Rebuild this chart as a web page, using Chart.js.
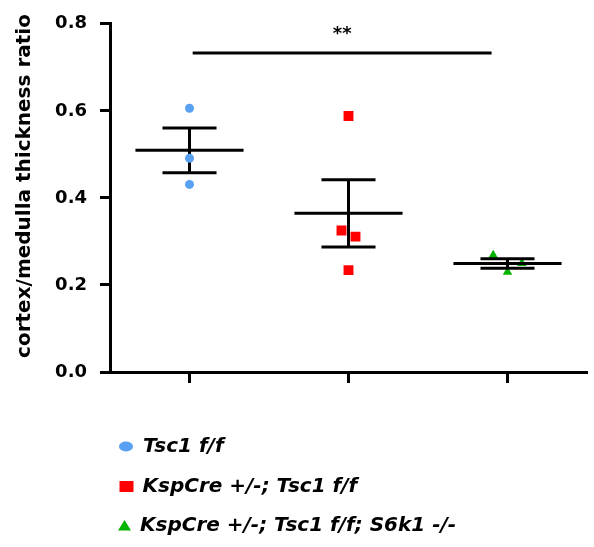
<!DOCTYPE html>
<html>
<head>
<meta charset="utf-8">
<script src="https://cdn.jsdelivr.net/npm/chart.js@4.4.1/dist/chart.umd.min.js"></script>
<style>
  html, body { margin: 0; padding: 0; background: #fff; }
  #chart { display: block; }
</style>
</head>
<body>
<canvas id="chart" width="594" height="547"></canvas>
<script>
/* group scatter with mean +/- SEM */
const groupLabels = ['Tsc1 f/f', 'KspCre +/-; Tsc1 f/f', 'KspCre +/-; Tsc1 f/f; S6k1 -/-'];
const groupColors = ['#58a0f2', '#ff0000', '#00b400'];
const groupShapes = ['circle', 'rect', 'triangle'];

const tscX = [1, 1, 1];
const tscY = [0.606, 0.491, 0.431];
const kspX = [2, 1.956, 2.044, 2];
const kspY = [0.588, 0.325, 0.311, 0.234];
const s6kX = [2.91, 3.09, 3];
const s6kY = [0.268, 0.250, 0.230];

const yTicks = [0, 0.2, 0.4, 0.6, 0.8];
const xTicks = [1, 2, 3];

const sigFrom = 1.02;
const sigTo = 2.9;
const sigY = 0.733;
const sigLabel = '**';

const FONT = '"DejaVu Sans", "Liberation Sans", sans-serif';

const toPoints = (xs, ys) => ys.map((y, i) => ({ x: xs[i], y }));
const groupData = [toPoints(tscX, tscY), toPoints(kspX, kspY), toPoints(s6kX, s6kY)];
const groupCenters = [1, 2, 3];
const pointSizes = [4.5, 7, 5.5];

function meanSem(vals) {
  const n = vals.length;
  const m = vals.reduce((a, b) => a + b, 0) / n;
  const sd = Math.sqrt(vals.reduce((a, b) => a + (b - m) * (b - m), 0) / (n - 1));
  return { mean: m, sem: sd / Math.sqrt(n) };
}

function drawErrorBars(chart) {
  const { ctx, scales: { x, y } } = chart;
  ctx.save();
  ctx.strokeStyle = '#000';
  ctx.lineWidth = 3;
  ctx.lineCap = 'butt';
  groupData.forEach((pts, i) => {
    const { mean, sem } = meanSem(pts.map(p => p.y));
    const c = groupCenters[i];
    const seg = (x0, x1, y0, y1) => {
      ctx.beginPath();
      ctx.moveTo(x.getPixelForValue(x0), y.getPixelForValue(y0));
      ctx.lineTo(x.getPixelForValue(x1), y.getPixelForValue(y1));
      ctx.stroke();
    };
    seg(c - 0.34, c + 0.34, mean, mean);
    seg(c - 0.17, c + 0.17, mean + sem, mean + sem);
    seg(c - 0.17, c + 0.17, mean - sem, mean - sem);
    seg(c, c, mean - sem, mean + sem);
  });
  ctx.restore();
}

const errorBarPlugin = {
  id: 'errorBars',
  afterDatasetDraw(chart, args) {
    // last dataset is painted first; put the lines right after it
    if (args.index === chart.data.datasets.length - 1) drawErrorBars(chart);
  },
};

function legendMark(ctx, shape, cx, cy) {
  ctx.beginPath();
  if (shape === 'circle') {
    ctx.ellipse(cx, cy, 7, 5, 0, 0, Math.PI * 2);
  } else if (shape === 'rect') {
    ctx.rect(cx - 7, cy - 5.5, 14, 11);
  } else {
    ctx.moveTo(cx, cy - 5.5);
    ctx.lineTo(cx + 6.5, cy + 5);
    ctx.lineTo(cx - 6.5, cy + 5);
    ctx.closePath();
  }
  ctx.fill();
}

const decorPlugin = {
  id: 'decor',
  afterDraw(chart) {
    const { ctx, scales: { x, y } } = chart;
    ctx.save();

    // significance bar
    const yy = y.getPixelForValue(sigY);
    const x0 = x.getPixelForValue(sigFrom);
    const x1 = x.getPixelForValue(sigTo);
    ctx.strokeStyle = '#000';
    ctx.lineWidth = 3;
    ctx.beginPath();
    ctx.moveTo(x0, yy);
    ctx.lineTo(x1, yy);
    ctx.stroke();
    ctx.fillStyle = '#000';
    ctx.font = 'bold 18px ' + FONT;
    ctx.textAlign = 'center';
    ctx.textBaseline = 'middle';
    ctx.fillText(sigLabel, (x0 + x1) / 2, yy - 19);

    // y axis title
    ctx.save();
    ctx.translate(25, 186);
    ctx.rotate(-Math.PI / 2);
    ctx.font = 'bold 20px ' + FONT;
    ctx.fillText('cortex/medulla thickness ratio', 0, 0);
    ctx.restore();

    // legend
    const rowY = [446.5, 486.5, 525.5];
    const markX = [126, 126.5, 124.5];
    const textX = [143, 142.5, 140];
    ctx.font = 'italic bold 20px ' + FONT;
    ctx.textAlign = 'left';
    chart.data.datasets.forEach((ds, i) => {
      ctx.fillStyle = groupColors[i];
      legendMark(ctx, groupShapes[i], markX[i], rowY[i]);
      ctx.fillStyle = '#000';
      ctx.fillText(ds.label, textX[i], rowY[i]);
    });
    ctx.restore();
  },
};

new Chart(document.getElementById('chart'), {
  type: 'scatter',
  data: {
    datasets: groupLabels.map((label, i) => ({
      label,
      data: groupData[i],
      pointStyle: groupShapes[i],
      pointRadius: pointSizes[i],
      pointHoverRadius: pointSizes[i],
      backgroundColor: groupColors[i],
      borderColor: groupColors[i],
      borderWidth: 0,
    })),
  },
  options: {
    responsive: false,
    animation: false,
    layout: { padding: { left: 0, top: 20, right: 7, bottom: 0 } },
    plugins: {
      legend: { display: false },
      tooltip: { enabled: false },
    },
    scales: {
      x: {
        type: 'linear',
        min: 0.5,
        max: 3.5,
        afterFit: s => { s.height = 175; },
        afterBuildTicks: s => { s.ticks = xTicks.map(v => ({ value: v })); },
        border: { color: '#000', width: 3 },
        grid: { drawOnChartArea: false, tickLength: 11, tickWidth: 3, tickColor: '#000' },
        ticks: { display: false },
      },
      y: {
        min: 0,
        max: 0.8,
        afterFit: s => { s.width = 110; },
        afterBuildTicks: s => { s.ticks = yTicks.map(v => ({ value: v })); },
        border: { color: '#000', width: 3 },
        grid: { drawOnChartArea: false, tickLength: 10, tickWidth: 3, tickColor: '#000' },
        ticks: {
          color: '#000',
          padding: 13,
          font: { family: FONT, size: 18, weight: 'bold' },
          callback: v => v.toFixed(1),
        },
      },
    },
  },
  plugins: [errorBarPlugin, decorPlugin],
});
</script>
</body>
</html>
